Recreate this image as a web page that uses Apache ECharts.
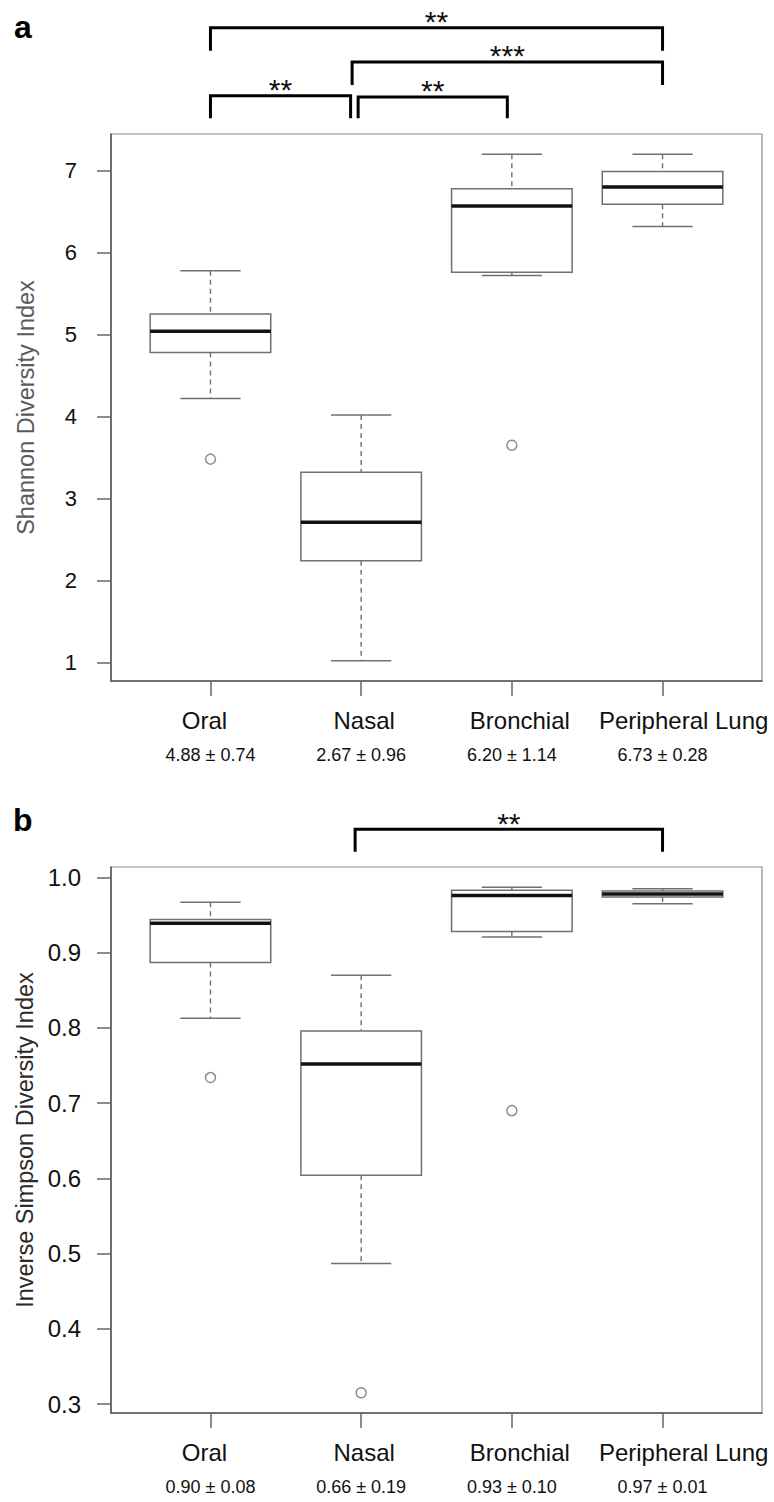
<!DOCTYPE html>
<html>
<head>
<meta charset="utf-8">
<script src="https://cdn.jsdelivr.net/npm/echarts@6/dist/echarts.min.js"></script>
<style>
html,body{margin:0;padding:0;background:#fff;}
#chart{width:774px;height:1502px;}
</style>
</head>
<body>
<div id="chart"></div>
<script>
// ---------- data ----------
const categories = ['Oral', 'Nasal', 'Bronchial', 'Peripheral Lung'];

// Shannon diversity: [min whisker, Q1, median, Q3, max whisker]
const shannonBoxes = [
  [4.22, 4.78, 5.04, 5.25, 5.78],
  [1.02, 2.24, 2.71, 3.32, 4.02],
  [5.72, 5.76, 6.57, 6.78, 7.20],
  [6.32, 6.59, 6.80, 6.99, 7.20]
];
const shannonOutliers = [[1, 3.48], [3, 3.65]];
const shannonStats = ['4.88 ± 0.74', '2.67 ± 0.96', '6.20 ± 1.14', '6.73 ± 0.28'];
const shannonTicks = [1, 2, 3, 4, 5, 6, 7];
// significance brackets: [from x, to x, bar level, leg end level]
const shannonBrackets = [
  [1, 4, 8.745, 8.464],
  [1.94, 4, 8.326, 8.045],
  [1, 1.93, 7.915, 7.64],
  [1.98, 2.97, 7.90, 7.64]
];
const shannonBracketLabels = ['**', '***', '**', '**'];

// Inverse Simpson diversity
const simpsonBoxes = [
  [0.813, 0.887, 0.939, 0.944, 0.967],
  [0.487, 0.604, 0.752, 0.796, 0.870],
  [0.921, 0.928, 0.976, 0.983, 0.987],
  [0.965, 0.974, 0.978, 0.982, 0.985]
];
const simpsonOutliers = [[1, 0.734], [2, 0.315], [3, 0.690]];
const simpsonStats = ['0.90 ± 0.08', '0.66 ± 0.19', '0.93 ± 0.10', '0.97 ± 0.01'];
const simpsonTicks = [0.3, 0.4, 0.5, 0.6, 0.7, 0.8, 0.9, 1.0];
const simpsonBrackets = [[1.96, 4, 1.064, 1.034]];
const simpsonBracketLabels = ['**'];

// ---------- helpers ----------
const FONT = '"Liberation Sans", Arial, Helvetica, sans-serif';
const catPositions = [1, 2, 3, 4];
// category-name anchors (names sit slightly off their ticks in the original figure)
const nameAnchors = [0.96, 2.02, 3.053, 4.14];

function extent(boxes, outliers) {
  let lo = Infinity, hi = -Infinity;
  boxes.forEach(b => b.forEach(v => { lo = Math.min(lo, v); hi = Math.max(hi, v); }));
  outliers.forEach(o => { lo = Math.min(lo, o[1]); hi = Math.max(hi, o[1]); });
  const pad = (hi - lo) * 0.04;
  return [lo - pad, hi + pad];
}

function boxRender(params, api) {
  const x = api.value(0);
  const mn = api.value(1), q1 = api.value(2), md = api.value(3), q3 = api.value(4), mx = api.value(5);
  const half = api.size([0.4, 0])[0];
  const capHalf = api.size([0.2, 0])[0];
  const cx = api.coord([x, md])[0];
  const yMn = api.coord([x, mn])[1];
  const yQ1 = api.coord([x, q1])[1];
  const yMd = api.coord([x, md])[1];
  const yQ3 = api.coord([x, q3])[1];
  const yMx = api.coord([x, mx])[1];
  const grey = '#707070';
  const dash = { stroke: grey, lineWidth: 1.4, lineDash: [5, 4] };
  const solid = { stroke: grey, lineWidth: 1.5 };
  return {
    type: 'group',
    children: [
      { type: 'line', shape: { x1: cx, y1: yMx, x2: cx, y2: yQ3 }, style: dash },
      { type: 'line', shape: { x1: cx, y1: yQ1, x2: cx, y2: yMn }, style: dash },
      { type: 'line', shape: { x1: cx - capHalf, y1: yMx, x2: cx + capHalf, y2: yMx }, style: solid },
      { type: 'line', shape: { x1: cx - capHalf, y1: yMn, x2: cx + capHalf, y2: yMn }, style: solid },
      { type: 'rect', shape: { x: cx - half, y: yQ3, width: 2 * half, height: yQ1 - yQ3 },
        style: { fill: '#fff', stroke: grey, lineWidth: 1.5 } },
      { type: 'line', shape: { x1: cx - half, y1: yMd, x2: cx + half, y2: yMd },
        style: { stroke: '#111', lineWidth: 3.5 } }
    ]
  };
}

function bracketRender(labels) {
  return function (params, api) {
    const x1 = api.value(0), x2 = api.value(1), lv = api.value(2), leg = api.value(3);
    const pA = api.coord([x1, lv]), pB = api.coord([x2, lv]);
    const yLeg = api.coord([x1, leg])[1];
    return {
      type: 'group',
      children: [
        { type: 'polyline',
          shape: { points: [[pA[0], yLeg], [pA[0], pA[1]], [pB[0], pB[1]], [pB[0], yLeg]] },
          style: { stroke: '#000', lineWidth: 3, fill: null, lineJoin: 'miter' } },
        { type: 'text',
          style: { text: labels[params.dataIndex], x: (pA[0] + pB[0]) / 2, y: pA[1] - 6,
                   align: 'center', verticalAlign: 'middle',
                   font: '30px ' + FONT, fill: '#111' } }
      ]
    };
  };
}

// main x axis: line, ticks and the mean ± sd line
function makeStatsAxis(gridIndex, stats) {
  return {
    type: 'value', gridIndex: gridIndex, position: 'bottom', min: 0.34, max: 4.66,
    splitLine: { show: false },
    axisLine: { show: true, onZero: false, lineStyle: { color: '#555', width: 1.5 } },
    axisTick: { show: true, customValues: catPositions, length: 15, inside: false,
                lineStyle: { color: '#666', width: 1.5 } },
    axisLabel: {
      show: true, customValues: catPositions, margin: 63,
      showMinLabel: true, showMaxLabel: true,
      fontFamily: FONT, fontSize: 18, lineHeight: 22, color: '#111',
      formatter: function (v) { return stats[Math.round(v) - 1]; }
    }
  };
}
// secondary x axis on the same grid: category names only
function makeNameAxis(gridIndex) {
  return {
    type: 'value', gridIndex: gridIndex, position: 'bottom', offset: 0, min: 0.34, max: 4.66,
    splitLine: { show: false },
    axisLine: { show: false, onZero: false },
    axisTick: { show: false },
    axisLabel: {
      show: true, customValues: nameAnchors, margin: 25,
      showMinLabel: true, showMaxLabel: true,
      fontFamily: FONT, fontSize: 24, lineHeight: 28, color: '#111',
      formatter: function (v) { return categories[Math.round(v) - 1]; }
    }
  };
}

function makeYAxis(gridIndex, ext, ticks, name, nameColor, labelSize, labelMargin, decimals) {
  return {
    type: 'value', gridIndex: gridIndex, min: ext[0], max: ext[1],
    name: name, nameLocation: 'middle', nameGap: 73, nameRotate: 90,
    nameTextStyle: { fontFamily: FONT, fontSize: 23.5, color: nameColor },
    splitLine: { show: false },
    axisLine: { show: true, lineStyle: { color: '#555', width: 1.5 } },
    axisTick: { show: true, customValues: ticks, length: 14, lineStyle: { color: '#666', width: 1.5 } },
    axisLabel: {
      show: true, customValues: ticks, margin: labelMargin,
      showMinLabel: true, showMaxLabel: true,
      fontFamily: FONT, fontSize: labelSize, color: '#111',
      formatter: function (v) { return decimals ? Number(v).toFixed(decimals) : String(Math.round(v)); }
    }
  };
}

const extA = extent(shannonBoxes, shannonOutliers);
const extB = extent(simpsonBoxes, simpsonOutliers);

const chart = echarts.init(document.getElementById('chart'), null, { renderer: 'svg' });
chart.setOption({
  backgroundColor: '#fff',
  animation: false,
  grid: [
    { left: 111, right: 12, top: 134, bottom: 821, show: true, borderColor: '#8c8c8c', borderWidth: 1.2 },
    { left: 111, right: 12, top: 867, bottom: 89, show: true, borderColor: '#8c8c8c', borderWidth: 1.2 }
  ],
  xAxis: [makeStatsAxis(0, shannonStats), makeStatsAxis(1, simpsonStats), makeNameAxis(0), makeNameAxis(1)],
  yAxis: [
    makeYAxis(0, extA, shannonTicks, 'Shannon Diversity Index', '#5a5a5a', 22, 34, 0),
    makeYAxis(1, extB, simpsonTicks, 'Inverse Simpson Diversity Index', '#2a2a2a', 24, 30, 1)
  ],
  graphic: [
    { type: 'text', left: 14, top: 11, style: { text: 'a', font: 'bold 32px ' + FONT, fill: '#000' } },
    { type: 'text', left: 13, top: 804, style: { text: 'b', font: 'bold 32px ' + FONT, fill: '#000' } }
  ],
  series: [
    { type: 'custom', xAxisIndex: 0, yAxisIndex: 0, clip: false,
      renderItem: boxRender, data: shannonBoxes.map((b, i) => [catPositions[i]].concat(b)) },
    { type: 'scatter', xAxisIndex: 0, yAxisIndex: 0, data: shannonOutliers,
      symbol: 'circle', symbolSize: 10,
      itemStyle: { color: '#fff', borderColor: '#707070', borderWidth: 1.5 } },
    { type: 'custom', xAxisIndex: 0, yAxisIndex: 0, clip: false,
      renderItem: bracketRender(shannonBracketLabels), data: shannonBrackets },
    { type: 'custom', xAxisIndex: 1, yAxisIndex: 1, clip: false,
      renderItem: boxRender, data: simpsonBoxes.map((b, i) => [catPositions[i]].concat(b)) },
    { type: 'scatter', xAxisIndex: 1, yAxisIndex: 1, data: simpsonOutliers,
      symbol: 'circle', symbolSize: 10,
      itemStyle: { color: '#fff', borderColor: '#707070', borderWidth: 1.5 } },
    { type: 'custom', xAxisIndex: 1, yAxisIndex: 1, clip: false,
      renderItem: bracketRender(simpsonBracketLabels), data: simpsonBrackets }
  ]
});
</script>
</body>
</html>
